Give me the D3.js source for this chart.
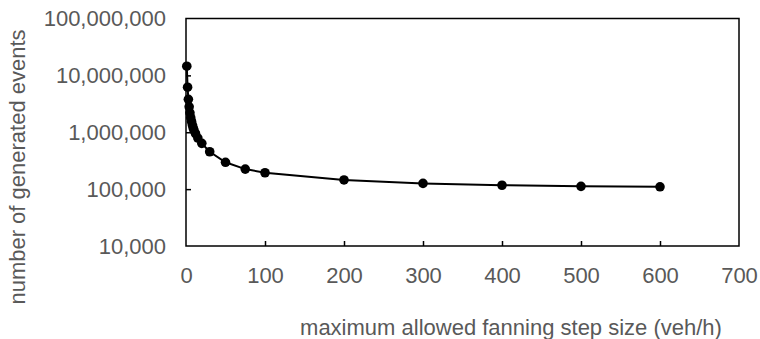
<!DOCTYPE html>
<html>
<head>
<meta charset="utf-8">
<script src="https://cdn.jsdelivr.net/npm/d3@7"></script>
<style>
  html, body { margin: 0; padding: 0; background: #fff; }
  svg { display: block; }
  text { font-family: "Liberation Sans", Arial, sans-serif; fill: #595959; }
</style>
</head>
<body>
<svg id="chart" width="760" height="339"></svg>
<script>
// Data
const stepSizes = [1, 2, 3, 4, 5, 6, 7, 8, 9, 10, 12, 15, 20, 30, 50, 75, 100, 200, 300, 400, 500, 600];
const events = [14500000, 6200000, 3800000, 2800000, 2200000, 1800000, 1550000, 1350000, 1200000, 1100000, 950000, 790000, 638000, 454000, 296000, 225000, 194000, 145000, 126000, 117000, 112000, 110000];
const xTicks = [0, 100, 200, 300, 400, 500, 600, 700];
const yTicks = [10000, 100000, 1000000, 10000000, 100000000];
const xTitle = "maximum allowed fanning step size (veh/h)";
const yTitle = "number of generated events";

const svg = d3.select("#chart");
const L = 186, R = 739, T = 18.5, B = 246;

const x = d3.scaleLinear().domain([0, 700]).range([L, R]);
const y = d3.scaleLog().domain([10000, 100000000]).range([B, T]);

const fmt = d3.format(",");

// Frame
svg.append("rect")
  .attr("x", L).attr("y", T)
  .attr("width", R - L).attr("height", B - T)
  .attr("fill", "none").attr("stroke", "#000").attr("stroke-width", 1.5);

// X axis
const xAxis = svg.append("g").attr("transform", `translate(0,${B})`)
  .call(d3.axisBottom(x).tickValues(xTicks).tickSizeInner(-5).tickSizeOuter(0).tickPadding(21));
xAxis.select(".domain").remove();
xAxis.selectAll(".tick line").attr("stroke", "#000").attr("stroke-width", 1.5)
  .filter(d => d === 0 || d === 700).remove();
xAxis.selectAll(".tick text").attr("font-size", 22).attr("fill", "#595959")
  .style("font-family", "Liberation Sans, Arial, sans-serif");

// Y axis
const yAxis = svg.append("g").attr("transform", `translate(${L},0)`)
  .call(d3.axisLeft(y).tickValues(yTicks).tickFormat(fmt).tickSizeInner(-5).tickSizeOuter(0).tickPadding(20));
yAxis.select(".domain").remove();
yAxis.selectAll(".tick line").attr("stroke", "#000").attr("stroke-width", 1.5)
  .filter(d => d === 10000 || d === 100000000).remove();
yAxis.selectAll(".tick text").attr("font-size", 22).attr("fill", "#595959")
  .style("font-family", "Liberation Sans, Arial, sans-serif");

// Line
const pts = stepSizes.map((s, i) => [s, events[i]]);
svg.append("path")
  .datum(pts)
  .attr("fill", "none")
  .attr("stroke", "#000")
  .attr("stroke-width", 2)
  .attr("d", d3.line().x(d => x(d[0])).y(d => y(d[1])));

// Markers
svg.append("g").selectAll("circle")
  .data(pts).join("circle")
  .attr("cx", d => x(d[0])).attr("cy", d => y(d[1]))
  .attr("r", 4.8).attr("fill", "#000");

// Titles
svg.append("text")
  .attr("x", 511).attr("y", 335)
  .attr("text-anchor", "middle").attr("font-size", 22)
  .text(xTitle);

svg.append("text")
  .attr("transform", `translate(25,167) rotate(-90)`)
  .attr("text-anchor", "middle").attr("font-size", 22)
  .text(yTitle);
</script>
</body>
</html>
